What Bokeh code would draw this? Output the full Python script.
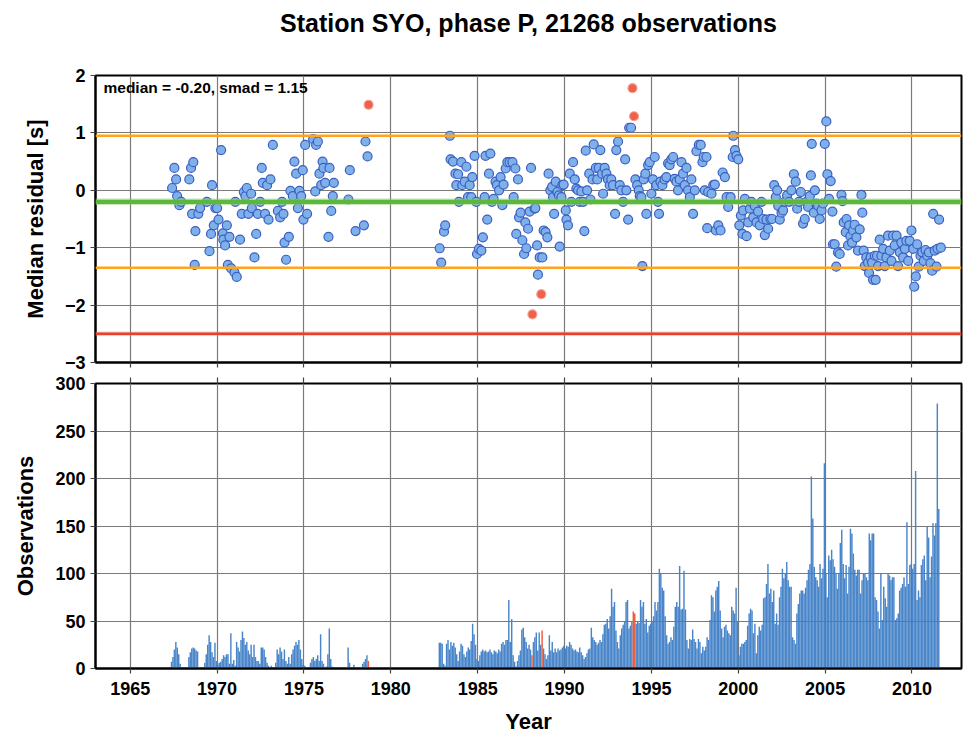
import numpy as np
from bokeh.plotting import figure
from bokeh.models import Range1d, Span, Label, LinearAxis, FixedTicker, ColumnDataSource
from bokeh.layouts import column
from bokeh.embed import file_html
from bokeh.resources import INLINE

FONT = "Liberation Sans"
TITLE = "Station SYO, phase P, 21268 observations"
NOTE = "median = -0.20, smad = 1.15"
MEDIAN = -0.20
UPPER = 0.95
LOWER = -1.35
LIMIT = -2.5

year_ticks = [1965, 1970, 1975, 1980, 1985, 1990, 1995, 2000, 2005, 2010]
resid_ticks = [-3, -2, -1, 0, 1, 2]
obs_ticks = [0, 50, 100, 150, 200, 250, 300]

# monthly median residuals (decimal year, seconds)
res_years = [
    1967.41, 1967.54, 1967.64, 1967.70, 1967.83, 1967.93, 1968.40, 1968.50, 1968.63, 1968.56,
    1968.75, 1968.71, 1968.92, 1969.02, 1969.41, 1969.56, 1969.65, 1969.71, 1969.81, 1969.90,
    1970.00, 1970.08, 1970.23, 1970.33, 1970.36, 1970.46, 1970.56, 1970.71, 1970.62, 1970.81,
    1971.00, 1971.13, 1971.05, 1971.32, 1971.42, 1971.54, 1971.63, 1971.71, 1971.80, 1971.96,
    1972.00, 1972.15, 1972.25, 1972.34, 1972.48, 1972.57, 1972.63, 1972.76, 1972.88, 1972.96,
    1973.07, 1973.21, 1973.50, 1973.63, 1973.74, 1973.82, 1973.88, 1973.97, 1974.13, 1974.22,
    1974.36, 1974.45, 1974.55, 1974.65, 1974.74, 1974.84, 1974.93, 1974.97, 1975.07, 1975.18,
    1975.53, 1975.65, 1975.70, 1975.80, 1975.89, 1975.99, 1976.07, 1976.12, 1976.22, 1976.47,
    1976.41, 1976.57, 1976.66, 1976.72, 1977.56, 1977.64, 1977.97, 1978.45, 1978.54, 1978.66,
    1982.81, 1982.90, 1983.06, 1983.13, 1983.40, 1983.44, 1983.58, 1983.72, 1983.77, 1983.87,
    1983.92, 1984.06, 1984.11, 1984.25, 1984.35, 1984.44, 1984.54, 1984.63, 1984.69, 1984.82,
    1984.92, 1984.96, 1985.07, 1985.21, 1985.30, 1985.40, 1985.45, 1985.55, 1985.65, 1985.73,
    1985.82, 1985.92, 1986.03, 1986.11, 1986.23, 1986.32, 1986.42, 1986.49, 1986.61, 1986.71,
    1986.84, 1987.00, 1987.07, 1987.17, 1987.22, 1987.32, 1987.38, 1987.47, 1987.57, 1987.67,
    1987.74, 1987.80, 1987.90, 1987.99, 1988.07, 1988.28, 1988.32, 1988.42, 1988.47, 1988.57,
    1988.72, 1988.80, 1988.91, 1989.01, 1989.08, 1989.18, 1989.28, 1989.34, 1989.40, 1989.49,
    1989.59, 1989.68, 1989.72, 1989.82, 1989.87, 1989.95, 1990.07, 1990.11, 1990.20, 1990.30,
    1990.39, 1990.49, 1990.59, 1990.68, 1990.78, 1990.87, 1990.97, 1991.07, 1991.14, 1991.22,
    1991.30, 1991.42, 1991.49, 1991.61, 1991.68, 1991.80, 1991.88, 1991.97, 1992.06, 1992.16,
    1992.22, 1992.31, 1992.41, 1992.50, 1992.60, 1992.69, 1992.79, 1992.91, 1992.98, 1993.08,
    1993.18, 1993.27, 1993.37, 1993.49, 1993.56, 1993.66, 1993.72, 1993.83, 1994.08, 1994.18,
    1994.27, 1994.33, 1994.42, 1994.48, 1994.56, 1994.65, 1994.71, 1994.81, 1994.90, 1995.00,
    1995.09, 1995.19, 1995.29, 1995.38, 1995.44, 1995.52, 1995.63, 1995.76, 1995.86, 1995.96,
    1996.05, 1996.15, 1996.25, 1996.34, 1996.44, 1996.53, 1996.63, 1996.73, 1996.82, 1996.92,
    1997.02, 1997.11, 1997.21, 1997.30, 1997.40, 1997.50, 1997.59, 1997.73, 1997.84, 1997.94,
    1998.01, 1998.07, 1998.17, 1998.21, 1998.27, 1998.46, 1998.56, 1998.65, 1998.71, 1998.85,
    1998.98, 1999.10, 1999.23, 1999.33, 1999.42, 1999.56, 1999.68, 1999.71, 1999.81, 1999.90,
    2000.00, 2000.06, 2000.15, 2000.24, 2000.28, 2000.38, 2000.48, 2000.57, 2000.67, 2000.76,
    2000.86, 2000.95, 2001.05, 2001.14, 2001.24, 2001.34, 2001.43, 2001.53, 2001.62, 2001.72,
    2001.85, 2001.95, 2002.07, 2002.16, 2002.24, 2002.30, 2002.39, 2002.49, 2002.58, 2002.68,
    2002.81, 2002.93, 2003.06, 2003.20, 2003.31, 2003.39, 2003.50, 2003.60, 2003.73, 2003.83,
    2003.93, 2004.02, 2004.12, 2004.18, 2004.23, 2004.35, 2004.41, 2004.50, 2004.60, 2004.69,
    2004.79, 2004.88, 2004.98, 2005.07, 2005.13, 2005.23, 2005.32, 2005.42, 2005.45, 2005.55,
    2005.64, 2005.74, 2005.84, 2005.94, 2006.00, 2006.07, 2006.19, 2006.23, 2006.32, 2006.38,
    2006.45, 2006.55, 2006.61, 2006.70, 2006.80, 2006.89, 2006.99, 2007.09, 2007.14, 2007.22,
    2007.28, 2007.37, 2007.47, 2007.53, 2007.62, 2007.70, 2007.76, 2007.86, 2007.91, 2007.99,
    2008.05, 2008.14, 2008.24, 2008.34, 2008.43, 2008.53, 2008.62, 2008.72, 2008.82, 2008.91,
    2009.01, 2009.11, 2009.20, 2009.30, 2009.39, 2009.49, 2009.59, 2009.68, 2009.78, 2009.87,
    2009.97, 2010.07, 2010.13, 2010.22, 2010.30, 2010.39, 2010.49, 2010.59, 2010.68, 2010.78,
    2010.88, 2010.97, 2011.06, 2011.16, 2011.22, 2011.31, 2011.41, 2011.47, 2011.56, 2011.66,
]
res_values = [
    0.04, 0.39, 0.19, -0.10, -0.26, -0.20, 0.19, 0.39, 0.49, -0.41,
    -0.71, -1.30, -0.41, -0.31, -0.20, -1.06, -0.76, 0.09, -0.61, -0.31,
    -0.31, -0.51, 0.70, -0.75, -0.86, -0.96, -0.61, -0.81, -1.30, -1.36,
    -1.43, -1.51, -0.20, -0.86, -0.41, -0.03, -0.10, 0.04, -0.41, -0.06,
    -0.31, -1.17, -0.76, -0.41, -0.20, 0.39, 0.13, -0.41, 0.09, -0.51,
    0.19, 0.79, -0.36, -0.47, -0.20, -0.41, -0.91, -1.21, -0.81, -0.01,
    -0.10, 0.50, 0.29, -0.31, -0.01, -0.10, 0.35, -0.51, 0.79, -0.41,
    0.89, -0.02, 0.79, 0.85, 0.29, 0.09, 0.50, 0.39, 0.13, 0.39,
    -0.81, -0.36, -0.10, 0.13, -0.16, 0.35, -0.71, -0.61, 0.85, 0.59,
    -1.01, -1.26, -0.72, -0.61, 0.95, 0.54, 0.50, 0.29, 0.09, 0.28,
    -0.20, 0.49, 0.09, 0.15, 0.41, -0.12, 0.09, -0.12, 0.23, 0.60,
    -0.20, -1.11, -1.02, -1.05, -0.82, -0.12, 0.60, -0.51, 0.29, 0.64,
    -0.20, -0.15, 0.15, 0.09, 0.00, 0.23, -0.26, 0.10, 0.38, 0.49,
    0.49, 0.49, -0.12, 0.38, -0.76, 0.19, -0.47, -0.39, -0.87, -1.11,
    -0.56, -1.01, -0.67, -0.37, 0.39, -0.32, -0.31, -0.96, -1.47, -1.17,
    -1.17, -0.70, -0.73, -0.82, 0.29, 0.00, 0.06, -0.12, -0.41, 0.15,
    -0.03, -0.09, -0.98, -0.12, 0.09, 0.10, -0.35, -0.51, -0.61, 0.29,
    -0.20, 0.49, 0.19, 0.03, 0.00, -0.20, -0.02, -0.20, -0.71, 0.69,
    0.00, 0.29, -0.16, 0.19, 0.80, 0.39, 0.19, 0.39, 0.70, 0.29,
    -0.06, 0.39, 0.29, 0.19, 0.09, 0.19, 0.09, -0.41, 0.70, 0.85,
    0.09, 0.00, -0.20, 0.54, 0.00, -0.51, 1.09, 1.09, 0.19, 0.09,
    0.00, -0.10, -0.12, -1.32, 0.19, 0.29, -0.41, 0.44, 0.49, -0.06,
    0.19, 0.58, 0.09, -0.20, -0.41, 0.15, 0.09, 0.19, 0.23, 0.47,
    0.44, 0.54, 0.58, 0.20, 0.15, 0.00, 0.19, 0.49, 0.29, 0.09,
    0.39, 0.00, -0.12, 0.19, -0.41, 0.00, 0.68, 0.79, 0.79, 0.49,
    0.58, 0.00, 0.58, -0.66, -0.03, -0.06, 0.09, 0.10, -0.70, -0.61,
    -0.70, 0.31, 0.23, -0.12, -0.29, -0.12, 0.58, 0.95, 0.70, 0.60,
    0.54, -0.61, -0.44, -0.76, -0.35, -0.15, -0.80, -0.56, -0.32, -0.20,
    -0.47, -0.27, -0.56, -0.37, -0.61, -0.20, -0.50, -0.78, -0.51, -0.67,
    -0.50, -0.50, 0.09, -0.12, 0.00, -0.27, -0.51, -0.39, -0.35, -0.20,
    -0.09, -0.20, 0.00, 0.28, 0.15, -0.32, -0.20, -0.03, -0.58, -0.50,
    -0.20, -0.29, -0.10, 0.26, 0.81, -0.39, 0.00, -0.23, -0.27, -0.50,
    -0.35, -0.23, 0.81, 1.20, 0.28, -0.15, 0.16, -0.37, -0.94, -0.94,
    -1.33, -1.08, -1.11, -0.08, -0.19, -0.56, -0.73, -0.50, -0.96, -0.61,
    -0.80, -0.91, -0.70, -0.60, -0.82, -1.05, -0.68, -0.08, -0.39, -1.05,
    -1.32, -1.17, -1.26, -1.44, -1.17, -1.26, -1.56, -1.14, -1.56, -1.14,
    -1.32, -0.86, -1.14, -1.02, -1.32, -1.17, -0.79, -1.05, -1.23, -0.79,
    -0.96, -0.79, -1.32, -1.08, -0.91, -1.17, -1.02, -0.88, -1.23, -0.88,
    -0.70, -1.02, -1.68, -1.50, -0.94, -1.33, -1.14, -1.08, -1.23, -1.04,
    -1.14, -1.08, -1.27, -1.40, -0.41, -1.05, -1.33, -1.02, -0.51, -1.00,
]
# months flagged as outliers (drawn in red)
out_years = [1978.72, 1988.15, 1988.66, 1993.91, 1994.00]
out_values = [1.49, -2.16, -1.81, 1.78, 1.29]

# monthly observation counts, one row per year
obs_1967_1978 = [
    0, 0, 0, 0, 7, 12, 20, 28, 22, 15, 5, 0,        # 1967
    0, 0, 0, 0, 12, 17, 21, 22, 21, 19, 18, 0,      # 1968
    0, 0, 0, 6, 15, 25, 35, 28, 17, 12, 27, 8,      # 1969
    4, 6, 7, 10, 14, 12, 15, 15, 5, 37, 5, 9,       # 1970
    3, 28, 22, 18, 30, 39, 32, 25, 28, 19, 15, 25,  # 1971
    12, 25, 12, 8, 8, 5, 22, 22, 20, 12, 6, 3,      # 1972
    0, 3, 0, 0, 6, 20, 15, 22, 18, 10, 20, 8,       # 1973
    5, 12, 5, 15, 20, 24, 28, 25, 30, 20, 10, 4,    # 1974
    3, 0, 0, 0, 6, 10, 12, 8, 10, 14, 8, 36,        # 1975
    8, 5, 0, 2, 15, 42, 10, 2, 0, 0, 0, 0,          # 1976
    0, 0, 0, 0, 0, 0, 22, 6, 0, 0, 4, 0,            # 1977
    0, 0, 0, 0, 5, 7, 10, 14, 8, 0, 0, 0,           # 1978
]
obs_1982_1989 = [
    0, 0, 0, 0, 0, 0, 0, 0, 0, 27, 27, 26,          # 1982
    5, 3, 26, 30, 20, 28, 24, 27, 22, 15, 8, 18,    # 1983
    26, 24, 15, 12, 18, 22, 20, 29, 47, 36, 25, 10, # 1984
    8, 14, 18, 20, 18, 19, 17, 18, 20, 17, 15, 19,  # 1985
    18, 16, 20, 18, 26, 28, 25, 30, 30, 72, 28, 52, # 1986
    14, 7, 2, 8, 14, 19, 41, 43, 33, 28, 21, 25,    # 1987
    20, 14, 28, 33, 38, 19, 38, 25, 40, 21, 15, 10, # 1988
    14, 35, 19, 28, 17, 21, 17, 21, 19, 20, 22, 24, # 1989
]
obs_1990_1999 = [
    21, 24, 23, 28, 25, 21, 19, 20, 18, 17, 22, 17,     # 1990
    14, 10, 12, 16, 20, 21, 43, 33, 30, 28, 25, 27,     # 1991
    30, 28, 36, 46, 47, 52, 42, 55, 84, 65, 70, 40,     # 1992
    28, 21, 35, 42, 46, 50, 70, 72, 42, 45, 50, 60,     # 1993
    58, 47, 50, 48, 72, 65, 70, 47, 52, 38, 45, 47,     # 1994
    50, 55, 70, 61, 70, 105, 100, 85, 82, 55, 35, 26,   # 1995
    28, 33, 30, 44, 65, 70, 65, 108, 62, 63, 103, 62,   # 1996
    30, 21, 31, 30, 41, 31, 28, 21, 31, 28, 16, 23,     # 1997
    19, 23, 33, 30, 51, 77, 75, 60, 82, 86, 92, 61,     # 1998
    42, 33, 44, 46, 40, 37, 35, 65, 61, 58, 85, 50,     # 1999
]
obs_2000_2011 = [
    14, 23, 26, 26, 28, 30, 45, 58, 63, 61, 37, 47,             # 2000
    16, 35, 44, 40, 46, 74, 75, 89, 110, 79, 84, 70,            # 2001
    82, 47, 58, 46, 75, 86, 105, 95, 100, 112, 93, 86,          # 2002
    86, 33, 30, 26, 58, 68, 79, 82, 82, 79, 85, 93,             # 2003
    104, 110, 202, 158, 107, 96, 93, 86, 110, 95, 105, 216,     # 2004
    100, 75, 119, 114, 125, 115, 107, 100, 84, 100, 132, 146,   # 2005
    110, 95, 109, 79, 107, 147, 142, 121, 104, 98, 104, 104,    # 2006
    79, 93, 100, 100, 96, 93, 142, 135, 142, 142, 75, 72,       # 2007
    60, 42, 100, 51, 86, 74, 65, 100, 98, 93, 96, 96,           # 2008
    51, 53, 58, 82, 85, 89, 96, 86, 154, 89, 109, 110,          # 2009
    105, 110, 208, 72, 82, 75, 109, 115, 119, 93, 149, 138,     # 2010
    96, 118, 153, 140, 153, 279, 168,                           # 2011
]
obs_segments = [(1967, obs_1967_1978), (1982, obs_1982_1989),
                (1990, obs_1990_1999), (2000, obs_2000_2011)]
# (year, month) of the outlier months, drawn in red
out_months = [(1978, 9), (1988, 2), (1988, 9), (1993, 12), (1994, 1)]

bar_x, bar_top, bar_red_x, bar_red_top = [], [], [], []
for start, counts in obs_segments:
    for i, c in enumerate(counts):
        if c <= 0:
            continue
        yr = start + i // 12
        mo = i % 12 + 1
        xc = yr + (mo - 0.5) / 12.0
        if (yr, mo) in out_months:
            bar_red_x.append(xc); bar_red_top.append(c)
        else:
            bar_x.append(xc); bar_top.append(c)

x_range = Range1d(1963.0, 2012.85)
LEFT = 95
FRAME_W = 866
FRAME_H1 = 287
FRAME_H2 = 285
TITLE_H = 40


def style(p, yticks):
    p.outline_line_color = "black"
    p.outline_line_width = 2
    p.outline_line_alpha = 1
    p.xaxis.ticker = FixedTicker(ticks=year_ticks)
    p.yaxis.ticker = FixedTicker(ticks=yticks)
    p.xgrid.ticker = FixedTicker(ticks=year_ticks)
    p.ygrid.ticker = FixedTicker(ticks=yticks)
    for g in (p.xgrid, p.ygrid):
        g.grid_line_color = "#7a7a7a"
        g.grid_line_width = 1.2
        g.grid_line_alpha = 1
    for ax in (p.xaxis, p.yaxis):
        ax.axis_line_color = "black"
        ax.axis_line_width = 2
        ax.major_tick_line_color = "#444444"
        ax.major_tick_line_width = 1.2
        ax.major_tick_in = 0
        ax.major_tick_out = 5
        ax.minor_tick_line_color = None
        ax.major_label_text_font = FONT
        ax.major_label_text_font_style = "bold"
        ax.major_label_text_font_size = "18px"
        ax.major_label_text_color = "black"
        ax.axis_label_text_font = FONT
        ax.axis_label_text_font_style = "bold"
        ax.axis_label_text_font_size = "22px"
        ax.axis_label_text_color = "black"
    p.yaxis.major_label_standoff = 5
    p.background_fill_color = "white"
    p.border_fill_color = "white"


# title strip, its frame aligned with the plot frames below
pt = figure(frame_width=FRAME_W, frame_height=TITLE_H, output_backend="svg",
            toolbar_location=None, x_axis_location=None, y_axis_location=None,
            min_border_left=LEFT, min_border_right=2, min_border_top=0, min_border_bottom=0,
            outline_line_color=None)
pt.grid.visible = False
pt.add_layout(Label(x=FRAME_W / 2, y=TITLE_H - 22, x_units="screen", y_units="screen",
                    text=TITLE, text_font=FONT, text_font_style="bold", text_font_size="25px",
                    text_align="center", text_baseline="middle", text_color="black"))

p1 = figure(frame_width=FRAME_W, frame_height=FRAME_H1, x_range=x_range, y_range=Range1d(-3, 2),
            output_backend="svg", toolbar_location=None,
            min_border_left=LEFT, min_border_right=2, min_border_top=75 - TITLE_H, min_border_bottom=11)
style(p1, resid_ticks)
p1.yaxis.axis_label = "Median residual [s]"
p1.yaxis.axis_label_standoff = 14
p1.xaxis.major_label_overrides = {t: "" for t in year_ticks}
p1.xaxis.major_label_text_font_size = "1px"

p1.add_layout(Span(location=MEDIAN, dimension="width", line_color="#8fd070", line_width=6.5, line_alpha=0.5))
p1.add_layout(Span(location=MEDIAN, dimension="width", line_color="#5cb83c", line_width=4.2))
for loc in (UPPER, LOWER):
    p1.add_layout(Span(location=loc, dimension="width", line_color="#ffa41c", line_width=2.6))
p1.add_layout(Span(location=LIMIT, dimension="width", line_color="#f08070", line_width=4.5, line_alpha=0.4))
p1.add_layout(Span(location=LIMIT, dimension="width", line_color="#e8402e", line_width=2.4))

p1.scatter(res_years, res_values, size=9, fill_color="#7eb1ea", line_color="#3c5ec2", line_width=1.2)
p1.scatter(out_years, out_values, size=9, fill_color="#f0604c", line_color="#f6a090", line_width=1.2)

p1.add_layout(Label(x=8, y=FRAME_H1 - 12, x_units="screen", y_units="screen", text=NOTE,
                    text_font=FONT, text_font_style="bold", text_font_size="15.5px",
                    text_baseline="middle", text_color="black"))

p2 = figure(frame_width=FRAME_W, frame_height=FRAME_H2, x_range=x_range, y_range=Range1d(0, 300),
            output_backend="svg", toolbar_location=None,
            min_border_left=LEFT, min_border_right=2, min_border_top=10, min_border_bottom=68)
style(p2, obs_ticks)
p2.yaxis.axis_label = "Observations"
p2.yaxis.axis_label_standoff = 14
p2.xaxis.axis_label = "Year"
p2.xaxis.major_label_standoff = 8
p2.xaxis.axis_label_standoff = 11

top_ax = LinearAxis(ticker=FixedTicker(ticks=year_ticks), axis_line_color=None,
                    major_tick_line_color="#444444", major_tick_line_width=1.2,
                    major_tick_in=0, major_tick_out=6, minor_tick_line_color=None,
                    major_label_overrides={t: "" for t in year_ticks},
                    major_label_text_font_size="1px")
p2.add_layout(top_ax, "above")

src = ColumnDataSource(dict(x=bar_x, top=bar_top))
p2.vbar(x="x", top="top", bottom=0, width=1 / 12.0, source=src,
        fill_color="#3f7ec6", fill_alpha=0.95, line_color=None)
p2.vbar(x=bar_red_x, top=bar_red_top, bottom=0, width=1 / 12.0,
        fill_color="#ee5a3a", line_color=None)

layout = column(pt, p1, p2)
open("out.html", "w").write(file_html(layout, INLINE))
